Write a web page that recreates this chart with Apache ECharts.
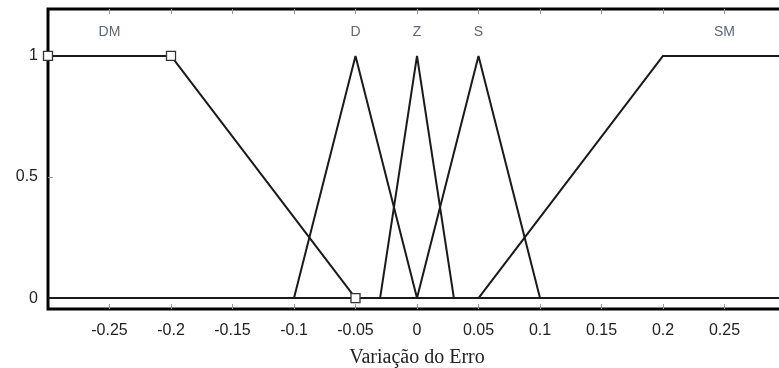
<!DOCTYPE html>
<html><head><meta charset="utf-8">
<script src="https://cdn.jsdelivr.net/npm/echarts@6/dist/echarts.min.js"></script>
<style>html,body{margin:0;padding:0;background:#fff}#c{width:779px;height:368px}</style>
</head><body><div id="c"></div>
<script>
// Membership functions (x = variação do erro, y = grau de pertinência)
const DM = [[-0.3, 1], [-0.2, 1], [-0.05, 0], [0.3, 0]];
const D  = [[-0.3, 0], [-0.1, 0], [-0.05, 1], [0, 0], [0.3, 0]];
const Z  = [[-0.3, 0], [-0.03, 0], [0, 1], [0.03, 0], [0.3, 0]];
const S  = [[-0.3, 0], [0, 0], [0.05, 1], [0.1, 0], [0.3, 0]];
const SM = [[-0.3, 0], [0.05, 0], [0.2, 1], [0.3, 1]];
const setNames = ['DM', 'D', 'Z', 'S', 'SM'];
const setLabelX = [-0.25, -0.05, 0, 0.05, 0.25];
const setLabelY = 1.1;
const xTicks = [-0.25, -0.2, -0.15, -0.1, -0.05, 0, 0.05, 0.1, 0.15, 0.2, 0.25];
const yTicks = [0, 0.5, 1];
const xTitle = 'Variação do Erro';

const chart = echarts.init(document.getElementById('c'));
const lineStyle = {color: '#1a1a1a', width: 2};
function mf(data, marks) {
  return {
    type: 'line', data: data, silent: true, animation: false,
    lineStyle: lineStyle,
    showSymbol: marks, symbol: 'rect', symbolSize: 9,
    itemStyle: {color: '#fff', borderColor: '#333', borderWidth: 1.3}
  };
}
chart.setOption({
  animation: false,
  grid: {left: 48, right: -7, top: 9, bottom: 59, outerBoundsMode: 'none', containLabel: false,
         show: true, borderColor: '#000', borderWidth: 3, backgroundColor: 'transparent'},
  xAxis: [{
    type: 'value', min: -0.3, max: 0.3, position: 'bottom',
    name: xTitle, nameLocation: 'middle', nameGap: 39,
    nameTextStyle: {fontFamily: 'Liberation Serif', fontSize: 20, color: '#222'},
    axisLine: {show: false, onZero: false}, splitLine: {show: false},
    axisTick: {show: true, inside: true, length: 5, customValues: xTicks, lineStyle: {color: '#999', width: 1}},
    axisLabel: {show: true, customValues: xTicks, margin: 14, fontFamily: 'Liberation Sans', fontSize: 16, color: '#222'}
  }, {
    type: 'value', min: -0.3, max: 0.3, position: 'top',
    axisLine: {show: false, onZero: false}, splitLine: {show: false},
    axisTick: {show: true, inside: true, length: 5, customValues: xTicks, lineStyle: {color: '#999', width: 1}},
    axisLabel: {show: false}
  }],
  yAxis: {
    type: 'value', min: -0.045, max: 1.194, position: 'left',
    axisLine: {show: false, onZero: false}, splitLine: {show: false},
    axisTick: {show: true, inside: true, length: 5, customValues: [0.5], lineStyle: {color: '#999', width: 1}},
    axisLabel: {show: true, customValues: yTicks, margin: 10, fontFamily: 'Liberation Sans', fontSize: 16, color: '#222'}
  },
  series: [
    mf(D, false), mf(Z, false), mf(S, false), mf(SM, false), mf(DM, true),
    {
      type: 'scatter', silent: true, symbolSize: 0,
      data: setNames.map((n, i) => ({value: [setLabelX[i], setLabelY], name: n})),
      label: {show: true, position: 'inside', formatter: p => p.name, fontFamily: 'Liberation Sans', fontSize: 14, color: '#34404f'}
    }
  ]
});
</script></body></html>
